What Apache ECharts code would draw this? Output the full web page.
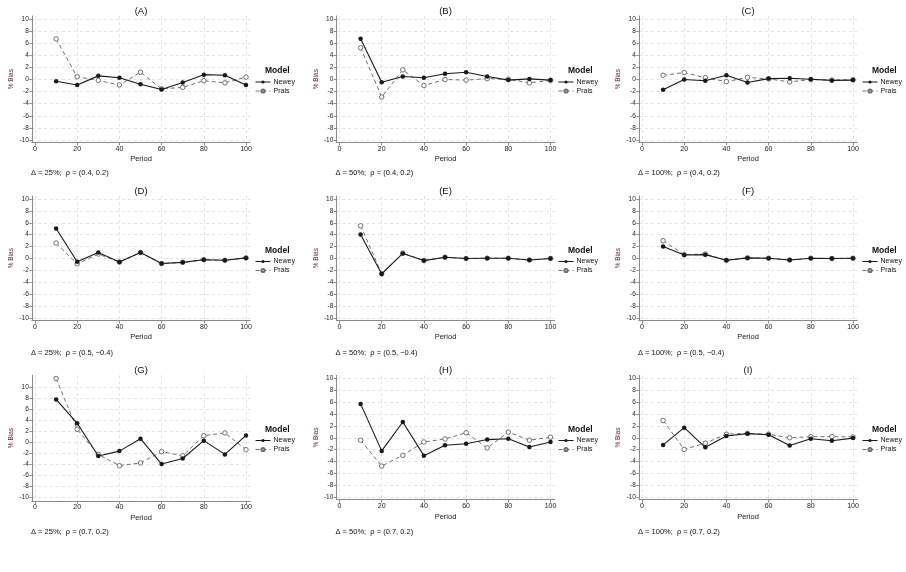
<!DOCTYPE html>
<html>
<head>
<meta charset="utf-8">
<script src="https://cdn.jsdelivr.net/npm/echarts@6/dist/echarts.min.js"></script>
<style>html,body{margin:0;padding:0;background:#fff;}#c{width:906px;height:572px;}</style>
</head>
<body>
<div id="c"></div>
<script>
const periods = [10, 20, 30, 40, 50, 60, 70, 80, 90, 100];
const xTicks = [0, 20, 40, 60, 80, 100];
const yTicks = [-10, -8, -6, -4, -2, 0, 2, 4, 6, 8, 10];
const panelTitles = ['(A)', '(B)', '(C)', '(D)', '(E)', '(F)', '(G)', '(H)', '(I)'];
const panelNotes = [
  'Δ = 25%;  ρ = (0.4, 0.2)', 'Δ = 50%;  ρ = (0.4, 0.2)', 'Δ = 100%;  ρ = (0.4, 0.2)',
  'Δ = 25%;  ρ = (0.5, −0.4)', 'Δ = 50%;  ρ = (0.5, −0.4)', 'Δ = 100%;  ρ = (0.5, −0.4)',
  'Δ = 25%;  ρ = (0.7, 0.2)', 'Δ = 50%;  ρ = (0.7, 0.2)', 'Δ = 100%;  ρ = (0.7, 0.2)'
];
const seriesNames = ['Newey', 'Prais'];

const neweyA = [-0.3, -0.9, 0.6, 0.3, -0.8, -1.65, -0.5, 0.8, 0.7, -0.9];
const praisA = [6.7, 0.45, -0.15, -0.9, 1.2, -1.55, -1.3, -0.2, -0.55, 0.4];
const neweyB = [6.75, -0.45, 0.5, 0.3, 0.95, 1.2, 0.5, -0.1, 0.1, -0.1];
const praisB = [5.25, -2.9, 1.6, -1.0, 0.0, -0.1, 0.15, 0.05, -0.55, -0.15];
const neweyC = [-1.7, 0.0, -0.2, 0.7, -0.5, 0.15, 0.2, 0.05, -0.15, -0.1];
const praisC = [0.7, 1.15, 0.3, -0.35, 0.35, 0.1, -0.4, 0.0, -0.1, -0.05];
const neweyD = [5.05, -0.55, 1.0, -0.6, 1.0, -0.85, -0.65, -0.2, -0.3, 0.1];
const praisD = [2.6, -0.9, 0.75, -0.6, 1.0, -0.85, -0.65, -0.2, -0.3, 0.1];
const neweyE = [4.05, -2.6, 0.85, -0.35, 0.2, 0.0, 0.05, 0.05, -0.25, 0.0];
const praisE = [5.5, -2.55, 0.9, -0.35, 0.2, 0.0, 0.05, 0.05, -0.25, 0.0];
const neweyF = [2.0, 0.6, 0.65, -0.3, 0.1, 0.05, -0.25, 0.05, 0.0, 0.05];
const praisF = [3.0, 0.65, 0.75, -0.3, 0.1, 0.05, -0.25, 0.05, 0.0, 0.05];
const neweyG = [7.8, 3.45, -2.5, -1.6, 0.65, -3.95, -2.95, 0.3, -2.2, 1.25];
const praisG = [11.6, 2.35, -2.2, -4.25, -3.75, -1.7, -2.45, 1.2, 1.7, -1.35];
const neweyH = [5.7, -2.2, 2.65, -3.0, -1.25, -1.0, -0.3, -0.15, -1.55, -0.7];
const praisH = [-0.4, -4.75, -2.95, -0.7, -0.2, 0.85, -1.7, 0.95, -0.4, 0.1];
const neweyI = [-1.2, 1.7, -1.6, 0.3, 0.7, 0.5, -1.3, -0.15, -0.5, -0.05];
const praisI = [2.9, -1.95, -0.9, 0.6, 0.75, 0.6, 0.0, 0.2, 0.2, 0.15];

const neweyAll = [neweyA, neweyB, neweyC, neweyD, neweyE, neweyF, neweyG, neweyH, neweyI];
const praisAll = [praisA, praisB, praisC, praisD, praisE, praisF, praisG, praisH, praisI];

// layout (pixels)
const colX0 = [35, 339.5, 642];
const ppuX = 2.11;
const xMin = -1.5, xMax = 102;
const rowY10 = [19, 199, 378.3];
const rowPpu = [6.05, 5.95, 5.95];
const legendLeft = [255, 558, 862];
const rowLegendTop = [66.5, 246, 425];

const FONT = 'Liberation Sans, Arial, sans-serif';
const grids = [], xAxes = [], yAxes = [], series = [], titles = [], legends = [];

for (let i = 0; i < 9; i++) {
  const r = Math.floor(i / 3), c = i % 3;
  let yMax = 10.5, yMin = -10.4, ppu = rowPpu[r], y10 = rowY10[r];
  if (i === 6) { yMax = 12.2; yMin = -10.65; ppu = 5.5; y10 = 387.3; }
  const left = colX0[c] + xMin * ppuX;
  const width = (xMax - xMin) * ppuX;
  const top = y10 - (yMax - 10) * ppu;
  const height = (yMax - yMin) * ppu;
  grids.push({ left: left, top: top, width: width, height: height, containLabel: false });
  xAxes.push({
    type: 'value', gridIndex: i, min: xMin, max: xMax,
    name: 'Period', nameLocation: 'middle', nameGap: 13,
    nameTextStyle: { fontSize: 7.5, color: '#222', fontFamily: FONT },
    axisLine: { show: true, onZero: false, lineStyle: { color: '#8a8a8a', width: 1 } },
    axisTick: { show: true, length: 3, customValues: xTicks, lineStyle: { color: '#8a8a8a' } },
    axisLabel: { customValues: xTicks, fontSize: 7, color: '#222', margin: 3, fontFamily: FONT },
    splitLine: { show: true, lineStyle: { color: '#e2e2e2', type: [3, 3], width: 1 } }
  });
  yAxes.push({
    type: 'value', gridIndex: i, min: yMin, max: yMax,
    name: '% Bias', nameLocation: 'middle', nameGap: 17, nameRotate: 90,
    nameTextStyle: { fontSize: 6.5, color: '#6b2330', fontFamily: FONT },
    axisLine: { show: true, onZero: false, lineStyle: { color: '#8a8a8a', width: 1 } },
    axisTick: { show: true, length: 2.5, customValues: yTicks, lineStyle: { color: '#8a8a8a' } },
    axisLabel: { customValues: yTicks, fontSize: 6.5, color: '#222', margin: 3, fontFamily: FONT },
    splitLine: { show: true, lineStyle: { color: '#e2e2e2', type: [3, 3], width: 1 } }
  });
  series.push({
    name: seriesNames[0], type: 'line', xAxisIndex: i, yAxisIndex: i,
    data: periods.map((p, k) => [p, neweyAll[i][k]]),
    symbol: 'circle', symbolSize: 4.5, showSymbol: true,
    lineStyle: { color: '#1a1a1a', width: 1.1 },
    itemStyle: { color: '#1a1a1a' }, z: 3, animation: false
  });
  series.push({
    name: seriesNames[1], type: 'line', xAxisIndex: i, yAxisIndex: i,
    data: periods.map((p, k) => [p, praisAll[i][k]]),
    symbol: 'circle', symbolSize: 4.5, showSymbol: true,
    lineStyle: { color: '#707070', width: 1, type: [4, 3] },
    itemStyle: { color: '#ffffff', borderColor: '#707070', borderWidth: 1 }, z: 2, animation: false
  });
  const cx = left + width / 2;
  titles.push({
    text: panelTitles[i], left: cx, top: top - 10, textAlign: 'center', padding: 0,
    textStyle: { fontSize: 9.5, fontWeight: 'normal', color: '#111', fontFamily: FONT }
  });
  titles.push({
    text: panelNotes[i], left: colX0[c] - 4, top: top + 153, padding: 0,
    textStyle: { fontSize: 7.5, fontWeight: 'normal', color: '#111', fontFamily: FONT }
  });
  titles.push({
    text: 'Model', left: legendLeft[c] + 10, top: rowLegendTop[r], padding: 0,
    textStyle: { fontSize: 8.5, fontWeight: 'bold', color: '#111', fontFamily: FONT }
  });
  legends.push({
    data: seriesNames, orient: 'vertical', left: legendLeft[c], top: rowLegendTop[r] + 12,
    padding: 0, itemWidth: 15, itemHeight: 4, itemGap: 2, selectedMode: false,
    lineStyle: { width: 1 },
    textStyle: { fontSize: 7, color: '#111', fontFamily: FONT, padding: [0, 0, 0, -2] }
  });
}

const chart = echarts.init(document.getElementById('c'), null, { renderer: 'canvas' });
chart.setOption({
  backgroundColor: '#ffffff',
  animation: false,
  title: titles,
  legend: legends,
  grid: grids,
  xAxis: xAxes,
  yAxis: yAxes,
  series: series
});
</script>
</body>
</html>
